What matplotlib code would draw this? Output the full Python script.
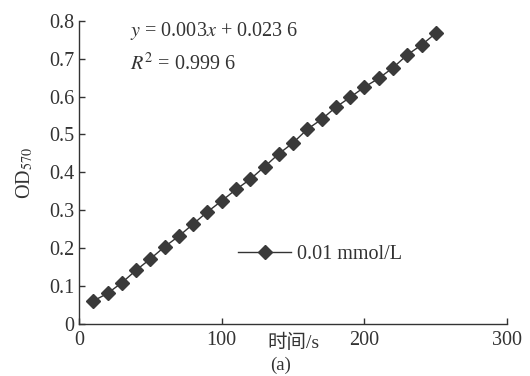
import matplotlib
matplotlib.use("Agg")
import matplotlib.pyplot as plt

# time (s) and OD570 readings
time_s = [10, 20, 30, 40, 50, 60, 70, 80, 90, 100, 110, 120, 130,
          140, 150, 160, 170, 180, 190, 200, 210, 220, 230, 240, 250]
od570 = [0.061, 0.081, 0.109, 0.142, 0.172, 0.204, 0.232, 0.264, 0.296,
         0.325, 0.355, 0.382, 0.415, 0.449, 0.478, 0.514, 0.540, 0.572,
         0.598, 0.625, 0.648, 0.676, 0.710, 0.736, 0.767]
series_label = "0.01 mmol/L"
x_ticks = [0, 100, 200, 300]
y_ticks = [0, 0.1, 0.2, 0.3, 0.4, 0.5, 0.6, 0.7, 0.8]

plt.rcParams['font.family'] = ['Liberation Serif', 'Noto Sans CJK SC']
plt.rcParams['mathtext.fontset'] = 'stix'

fig = plt.figure(figsize=(5.3, 3.76), dpi=100)
ax = fig.add_axes([0.149, 0.138, 0.808, 0.807])

ax.plot(time_s, od570, '-D', color='#333333', lw=1.0, ms=7.5,
        markerfacecolor='#3a3a3a', markeredgecolor='#3a3a3a', label=series_label)

ax.set_xlim(0, 300)
ax.set_ylim(0, 0.8)
ax.set_xticks(x_ticks)
ax.set_yticks(y_ticks)
ax.set_xticklabels([str(t) for t in x_ticks])
ax.set_yticklabels(["0"] + ["%.1f" % v for v in y_ticks[1:]])
ax.tick_params(direction='in', length=4, width=1, labelsize=14.5, colors='#333333')
ax.tick_params(axis='x', pad=5)
for s in ['top', 'right']:
  ax.spines[s].set_visible(False)
for s in ['left', 'bottom']:
  ax.spines[s].set_color('#333333')
  ax.spines[s].set_linewidth(1.0)

ax.set_ylabel("OD$_{570}$", fontsize=14.5, color='#333333', labelpad=10)

# x label sits between the 100 and 200 tick labels, with (a) below
fig.text(0.553, 0.088, "时间/s", fontsize=14, color='#333333', ha='center', va='center')
fig.text(0.530, 0.004, "(a)", fontsize=13.5, color='#333333', ha='center', va='bottom')

ax.text(0.12, 0.965, "$y$ = 0.003$x$ + 0.023 6", transform=ax.transAxes,
        fontsize=14.5, color='#333333', va='center')
ax.text(0.118, 0.858, "$R^2$ = 0.999 6", transform=ax.transAxes,
        fontsize=14.5, color='#333333', va='center')

ax.legend(loc='center left', bbox_to_anchor=(0.33, 0.23), frameon=False,
          fontsize=14.5, handlelength=2.6, handletextpad=0.3, labelcolor='#333333')

fig.savefig("out.png", dpi=100)
